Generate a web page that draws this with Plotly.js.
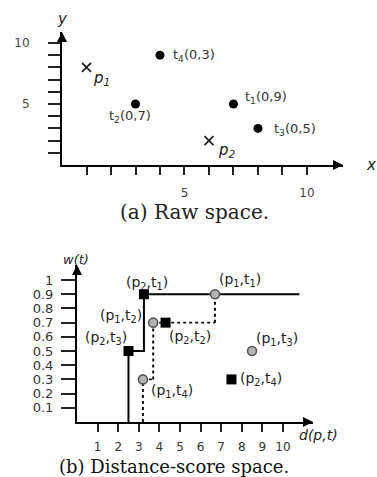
<!DOCTYPE html>
<html><head><meta charset="utf-8">
<script src="https://cdn.plot.ly/plotly-3.0.1.min.js"></script>
<style>html,body{margin:0;padding:0;background:#fff}#chart{width:377px;height:477px}</style>
</head><body><div id="chart"></div>
<script>
// ---- Panel (a): raw space ----
const tNames = ['t<sub>1</sub>(0,9)', 't<sub>2</sub>(0,7)', 't<sub>3</sub>(0,5)', 't<sub>4</sub>(0,3)'];
const tX = [7, 3, 8, 4];
const tY = [5, 5, 3, 9];
const pNames = ['p<sub>1</sub>', 'p<sub>2</sub>'];
const pX = [1, 6];
const pY = [8, 2];
const rawTickVals = [1, 2, 3, 4, 5, 6, 7, 8, 9, 10];
const rawTickText = ['', '', '', '', '5', '', '', '', '', '10'];

// ---- Panel (b): distance-score space ----
const p2Labels = ['(p<sub>2</sub>,t<sub>1</sub>)', '(p<sub>2</sub>,t<sub>2</sub>)', '(p<sub>2</sub>,t<sub>3</sub>)', '(p<sub>2</sub>,t<sub>4</sub>)'];
const p2Dist = [3.25, 4.3, 2.5, 7.5];
const p2Score = [0.9, 0.7, 0.5, 0.3];
const p1Labels = ['(p<sub>1</sub>,t<sub>1</sub>)', '(p<sub>1</sub>,t<sub>2</sub>)', '(p<sub>1</sub>,t<sub>3</sub>)', '(p<sub>1</sub>,t<sub>4</sub>)'];
const p1Dist = [6.7, 3.7, 8.5, 3.2];
const p1Score = [0.9, 0.7, 0.5, 0.3];
const solidD = [2.5, 2.5, 3.25, 3.25, 10.8];
const solidW = [0, 0.5, 0.5, 0.9, 0.9];
const dotD = [3.2, 3.2, null, 3.7, 3.7, null, 6.7, 6.7];
const dotW = [0, 0.3, null, 0.3, 0.7, null, 0.7, 0.9];
const dashD = [3.2, 3.7, null, 3.7, 6.7];
const dashW = [0.3, 0.3, null, 0.7, 0.7];
const dTickVals = [1, 2, 3, 4, 5, 6, 7, 8, 9, 10];
const dTickText = ['1', '2', '3', '4', '5', '6', '7', '8', '9', '10'];
const wTickVals = [0.1, 0.2, 0.3, 0.4, 0.5, 0.6, 0.7, 0.8, 0.9, 1];
const wTickText = ['0.1', '0.2', '0.3', '0.4', '0.5', '0.6', '0.7', '0.8', '0.9', '1'];

// label placement (style only)
const tPos = [{xa:'left',xs:10,ys:6},{xa:'center',xs:-6,ys:-13},{xa:'left',xs:14,ys:-1},{xa:'left',xs:11,ys:0}];
const pPos = [{xa:'left',xs:4,ys:-11},{xa:'left',xs:7,ys:-10}];
const p2Pos = [{xa:'center',xs:3,ys:11},{xa:'left',xs:1,ys:-14},{xa:'center',xs:-22,ys:13},{xa:'left',xs:7,ys:0}];
const p1Pos = [{xa:'center',xs:25,ys:14},{xa:'right',xs:-9,ys:7},{xa:'left',xs:2,ys:12},{xa:'left',xs:6,ys:-12}];

const SANS = 'DejaVu Sans, sans-serif';
const SERIF = 'DejaVu Serif, serif';

const traces = [
  {x: tX, y: tY, xaxis:'x', yaxis:'y', mode:'markers', type:'scatter',
   marker:{symbol:'circle', size:9, color:'#000'}},
  {x: pX, y: pY, xaxis:'x', yaxis:'y', mode:'markers', type:'scatter',
   marker:{symbol:'x-thin-open', size:9, color:'#222', line:{width:1.8, color:'#222'}}},
  {x: solidD, y: solidW, xaxis:'x2', yaxis:'y2', mode:'lines', type:'scatter',
   line:{color:'#000', width:2}},
  {x: dotD, y: dotW, xaxis:'x2', yaxis:'y2', mode:'lines', type:'scatter', connectgaps:false,
   line:{color:'#111', width:2, dash:'dot'}},
  {x: dashD, y: dashW, xaxis:'x2', yaxis:'y2', mode:'lines', type:'scatter', connectgaps:false,
   line:{color:'#111', width:1.6, dash:'3px,3px'}},
  {x: p2Dist, y: p2Score, xaxis:'x2', yaxis:'y2', mode:'markers', type:'scatter',
   marker:{symbol:'square', size:10, color:'#000'}},
  {x: p1Dist, y: p1Score, xaxis:'x2', yaxis:'y2', mode:'markers', type:'scatter',
   marker:{symbol:'circle', size:9, color:'#b4b4b4', line:{color:'#555', width:1.6}}}
];

const ann = [];
tNames.forEach((t,i)=>ann.push({xref:'x', yref:'y', x:tX[i], y:tY[i], text:t, showarrow:false,
  xanchor:tPos[i].xa, xshift:tPos[i].xs, yshift:tPos[i].ys, font:{family:SANS, size:13, color:'#333'}}));
pNames.forEach((t,i)=>ann.push({xref:'x', yref:'y', x:pX[i], y:pY[i], text:t, showarrow:false,
  xanchor:pPos[i].xa, xshift:pPos[i].xs, yshift:pPos[i].ys, font:{family:SANS, size:15, color:'#222', style:'italic'}}));
p2Labels.forEach((t,i)=>ann.push({xref:'x2', yref:'y2', x:p2Dist[i], y:p2Score[i], text:t, showarrow:false,
  xanchor:p2Pos[i].xa, xshift:p2Pos[i].xs, yshift:p2Pos[i].ys, font:{family:SANS, size:14, color:'#222'}}));
p1Labels.forEach((t,i)=>ann.push({xref:'x2', yref:'y2', x:p1Dist[i], y:p1Score[i], text:t, showarrow:false,
  xanchor:p1Pos[i].xa, xshift:p1Pos[i].xs, yshift:p1Pos[i].ys, font:{family:SANS, size:14, color:'#222'}}));

// axis arrows
const arrow = (xr, yr, x, y, ax, ay) => ({xref:xr, yref:yr, x:x, y:y, ax:ax, ay:ay, text:'', showarrow:true,
  arrowhead:2, arrowsize:1, arrowwidth:2, arrowcolor:'#000', standoff:0});
ann.push(arrow('x','y',11.47,0,-10,0));
ann.push(arrow('x','y',0,10.9,0,10));
ann.push(arrow('x2','y2',11.46,0,-10,0));
ann.push(arrow('x2','y2',0,1.106,0,10));

// axis titles and captions
const P = (px, py, text, font, xa) => ({xref:'paper', yref:'paper', x:px/377, y:1-py/477, text:text,
  showarrow:false, xanchor:xa||'center', yanchor:'middle', font:font});
ann.push(P(62, 19, 'y', {family:SANS, size:15, style:'italic', color:'#222'}));
ann.push(P(364, 165, 'x', {family:SANS, size:15, style:'italic', color:'#222'}, 'left'));
ann.push(P(76, 259, 'w(t)', {family:SANS, size:13, style:'italic', color:'#222'}));
ann.push(P(318, 435, 'd(p,t)', {family:SANS, size:14, style:'italic', color:'#222'}));
ann.push(P(194, 212, '(a) Raw space.', {family:SERIF, size:20, color:'#222'}));
ann.push(P(174, 466, '(b) Distance-score space.', {family:SERIF, size:18, color:'#111'}));

const axBase = {showgrid:false, zeroline:false, showline:true, linecolor:'#000', linewidth:2,
  ticks:'outside', tickcolor:'#222', tickwidth:2, fixedrange:true};

const layout = {
  width:377, height:477, autosize:false, showlegend:false,
  margin:{l:0, r:0, t:0, b:0}, paper_bgcolor:'#fff', plot_bgcolor:'#fff',
  xaxis: Object.assign({}, axBase, {domain:[62/377, 343/377], range:[0,11.47], anchor:'y',
    tickmode:'array', tickvals:rawTickVals, ticktext:rawTickText, ticklen:8, ticklabelstandoff:8,
    tickfont:{family:SANS, size:12, color:'#444'}}),
  yaxis: Object.assign({}, axBase, {domain:[1-165/477, 1-32/477], range:[0,10.9], anchor:'x',
    tickmode:'array', tickvals:rawTickVals, ticktext:rawTickText, ticklen:12, ticklabelstandoff:16,
    tickfont:{family:SANS, size:12, color:'#444'}}),
  xaxis2: Object.assign({}, axBase, {domain:[77/377, 313/377], range:[0,11.46], anchor:'y2',
    tickmode:'array', tickvals:dTickVals, ticktext:dTickText, ticklen:8, ticklabelstandoff:5,
    tickfont:{family:SANS, size:12, color:'#333'}}),
  yaxis2: Object.assign({}, axBase, {domain:[1-422/477, 1-265/477], range:[0,1.106], anchor:'x2',
    tickmode:'array', tickvals:wTickVals, ticktext:wTickText, ticklen:14, ticklabelstandoff:5,
    tickfont:{family:SANS, size:13, color:'#333'}}),
  annotations: ann
};

Plotly.newPlot('chart', traces, layout, {staticPlot:true, displayModeBar:false});
</script>
</body></html>
